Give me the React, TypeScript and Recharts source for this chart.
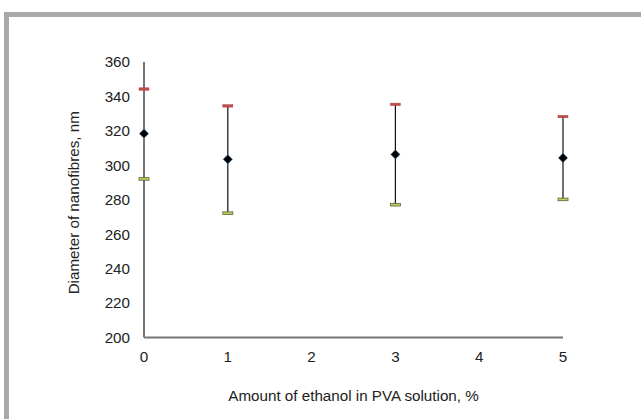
import React from 'react';
import { ComposedChart, XAxis, YAxis, Scatter, ErrorBar, Label } from 'recharts';

const ethanolPercent = [0, 1, 3, 5];
const meanDiameter = [318.4, 303.5, 306.3, 304.3];
const upperDiameter = [344.3, 334.5, 335.4, 328.3];
const lowerDiameter = [292.1, 272.2, 277.1, 280.2];
const xTicks = [0, 1, 2, 3, 4, 5];
const yTicks = [200, 220, 240, 260, 280, 300, 320, 340, 360];

const data = ethanolPercent.map((x, i) => ({
  x,
  mean: meanDiameter[i],
  upper: upperDiameter[i],
  lower: lowerDiameter[i],
  err: [meanDiameter[i] - lowerDiameter[i], upperDiameter[i] - meanDiameter[i]],
}));

const FONT = '"Liberation Sans", Arial, sans-serif';
const AXIS = '#767676';
const FS = 15.2;

const Diamond = (p: any) => {
  const { cx, cy } = p;
  const r = 4.6;
  return (
    <polygon
      points={`${cx},${cy - r} ${cx + r},${cy} ${cx},${cy + r} ${cx - r},${cy}`}
      fill="#000"
      stroke="#3b6fa8"
      strokeWidth={0.6}
    />
  );
};

const UpperCap = (p: any) => {
  const { cx, cy } = p;
  return <rect x={cx - 5} y={cy - 1.2} width={10} height={2.4} fill="#c0504d" stroke="#b03c3a" strokeWidth={0.5} />;
};

const LowerCap = (p: any) => {
  const { cx, cy } = p;
  return <rect x={cx - 5} y={cy - 1.3} width={10} height={2.6} fill="#bccf62" stroke="#5b6330" strokeWidth={0.8} />;
};

export default function App() {
  return (
    <div style={{ position: 'absolute', left: 0, top: 0, width: 641, height: 419, background: '#fff' }}>
      <div style={{ position: 'absolute', left: 4, top: 12, width: 637, height: 5, background: '#a9a9a9' }} />
      <div style={{ position: 'absolute', left: 4, top: 12, width: 5, height: 407, background: '#a9a9a9' }} />
      <div style={{ position: 'absolute', left: 0, top: 0 }}>
        <ComposedChart
          width={641}
          height={419}
          data={data}
          margin={{ top: 62, right: 78, bottom: 21.5, left: 64 }}
          style={{ fontFamily: FONT }}
        >
          <XAxis
            dataKey="x"
            type="number"
            domain={[0, 5]}
            ticks={xTicks}
            height={60}
            tickLine={false}
            tickSize={6}
            tickMargin={8}
            axisLine={{ stroke: AXIS, strokeWidth: 2 }}
            tick={{ fill: '#222', fontSize: FS, fontFamily: FONT }}
          >
            <Label
              content={(props: any) => {
                const vb = props.viewBox;
                return (
                  <text x={vb.x + vb.width / 2} y={vb.y + 63} textAnchor="middle" fill="#222" fontSize={FS} fontFamily={FONT}>
                    Amount of ethanol in PVA solution, %
                  </text>
                );
              }}
            />
          </XAxis>
          <YAxis
            type="number"
            domain={[200, 360]}
            ticks={yTicks}
            width={80}
            tickLine={false}
            tickSize={6}
            tickMargin={8}
            axisLine={{ stroke: AXIS, strokeWidth: 2 }}
            tick={{ fill: '#222', fontSize: FS, fontFamily: FONT }}
          >
            <Label
              content={(props: any) => {
                const vb = props.viewBox;
                const cx = 73;
                const cy = vb.y + vb.height / 2 + 3;
                return (
                  <text x={cx} y={cy} transform={`rotate(-90 ${cx} ${cy})`} textAnchor="middle" dominantBaseline="central" fill="#222" fontSize={FS} fontFamily={FONT}>
                    Diameter of nanofibres, nm
                  </text>
                );
              }}
            />
          </YAxis>
          <Scatter dataKey="mean" shape={Diamond} isAnimationActive={false}>
            <ErrorBar dataKey="err" direction="y" width={0} stroke="#111" strokeWidth={1.2} isAnimationActive={false} />
          </Scatter>
          <Scatter dataKey="upper" shape={UpperCap} isAnimationActive={false} />
          <Scatter dataKey="lower" shape={LowerCap} isAnimationActive={false} />
        </ComposedChart>
      </div>
    </div>
  );
}
